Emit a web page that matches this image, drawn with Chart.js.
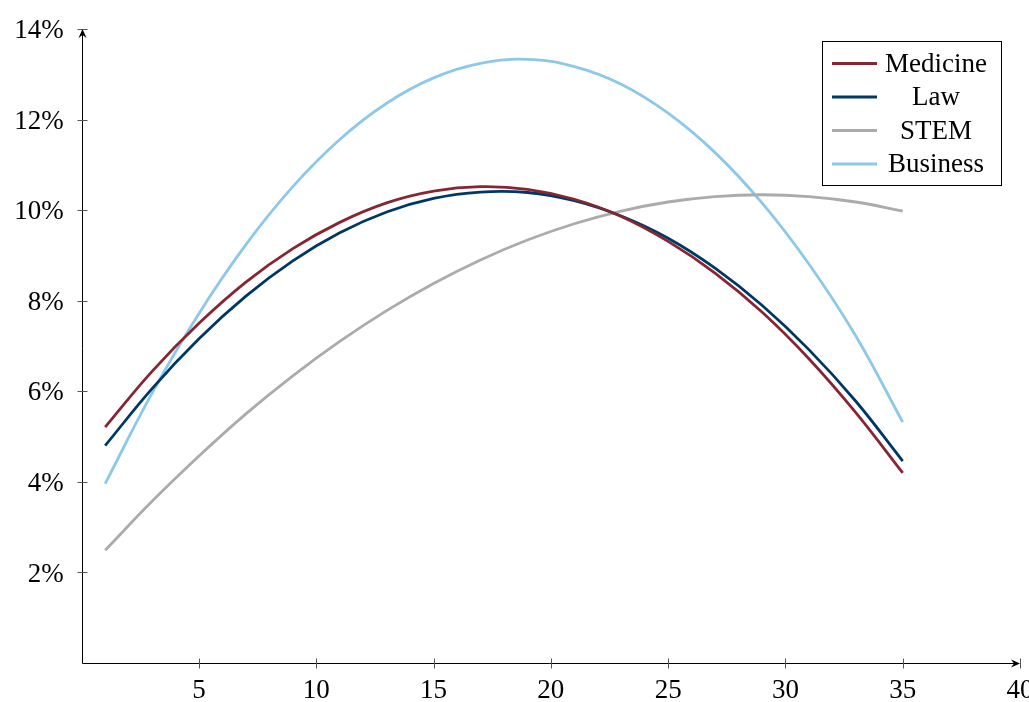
<!DOCTYPE html>
<html>
<head>
<meta charset="utf-8">
<script src="https://cdn.jsdelivr.net/npm/chart.js@4.4.1/dist/chart.umd.min.js"></script>
<style>
  html, body { margin: 0; padding: 0; background: #fff; }
  #wrap { width: 1029px; height: 702px; }
</style>
</head>
<body>
<div id="wrap"><canvas id="mainChart"></canvas></div>
<script>
// values (percent), every 2 years of experience
const xValues  = [1, 3, 5, 7, 9, 11, 13, 15, 17, 19, 21, 23, 25, 27, 29, 31, 33, 35];
const medicine = [5.21, 6.44, 7.50, 8.41, 9.15, 9.73, 10.16, 10.42, 10.52, 10.46, 10.24, 9.86, 9.31, 8.61, 7.75, 6.72, 5.53, 4.20];
const law      = [4.80, 6.06, 7.16, 8.10, 8.88, 9.50, 9.96, 10.26, 10.40, 10.39, 10.21, 9.87, 9.38, 8.72, 7.90, 6.92, 5.78, 4.46];
const stem     = [2.49, 3.57, 4.57, 5.50, 6.34, 7.10, 7.78, 8.38, 8.90, 9.34, 9.70, 9.98, 10.18, 10.30, 10.34, 10.30, 10.18, 9.98];
const business = [3.96, 5.96, 7.72, 9.24, 10.52, 11.56, 12.36, 12.92, 13.24, 13.33, 13.17, 12.78, 12.14, 11.27, 10.16, 8.81, 7.22, 5.32];

const seriesNames  = ['Medicine', 'Law', 'STEM', 'Business'];
const seriesColors = ['#862633', '#003865', '#ababab', '#8dc8e8'];
const xTicks = [5, 10, 15, 20, 25, 30, 35, 40];
const yTicks = [2, 4, 6, 8, 10, 12, 14];

const FONT = { family: '"Liberation Serif", "DejaVu Serif", serif', size: 27 };

function toPoints(values) {
    return values.map((v, i) => ({ x: xValues[i], y: v }));
}

// axes with arrows, ticks crossing the axis, boxed centred legend
const pgfLook = {
    id: 'pgfLook',
    afterDraw(chart) {
        const ctx = chart.ctx;
        const xs = chart.scales.x, ys = chart.scales.y;
        const x0 = Math.round(xs.getPixelForValue(0)) + 0.5;
        const y0 = Math.round(ys.getPixelForValue(0)) + 0.5;
        const xEnd = xs.getPixelForValue(40);
        const yEnd = ys.getPixelForValue(14);

        ctx.save();
        ctx.strokeStyle = '#000';
        ctx.fillStyle = '#000';
        ctx.lineWidth = 1;

        ctx.beginPath();
        ctx.moveTo(x0, y0); ctx.lineTo(xEnd - 4, y0);
        ctx.moveTo(x0, y0); ctx.lineTo(x0, yEnd + 4);
        ctx.stroke();

        ctx.strokeStyle = '#555';
        ctx.beginPath();
        xTicks.forEach(t => {
            const px = Math.round(xs.getPixelForValue(t)) + 0.5;
            ctx.moveTo(px, y0 - 5); ctx.lineTo(px, y0 + 5);
        });
        yTicks.forEach(t => {
            const py = Math.round(ys.getPixelForValue(t)) + 0.5;
            ctx.moveTo(x0 - 5, py); ctx.lineTo(x0 + 5, py);
        });
        ctx.stroke();

        // arrow heads
        ctx.beginPath();
        ctx.moveTo(xEnd, y0);
        ctx.lineTo(xEnd - 9, y0 - 4);
        ctx.lineTo(xEnd - 6, y0);
        ctx.lineTo(xEnd - 9, y0 + 4);
        ctx.closePath();
        ctx.fill();
        ctx.beginPath();
        ctx.moveTo(x0, yEnd);
        ctx.lineTo(x0 - 4, yEnd + 9);
        ctx.lineTo(x0, yEnd + 6);
        ctx.lineTo(x0 + 4, yEnd + 9);
        ctx.closePath();
        ctx.fill();

        // legend
        const box = { left: 822.5, top: 41.5, right: 1001.5, bottom: 185.5 };
        ctx.fillStyle = '#fff';
        ctx.fillRect(box.left, box.top, box.right - box.left, box.bottom - box.top);
        ctx.strokeStyle = '#000';
        ctx.lineWidth = 1;
        ctx.strokeRect(box.left, box.top, box.right - box.left, box.bottom - box.top);
        ctx.font = FONT.size + 'px ' + FONT.family;
        ctx.textAlign = 'center';
        ctx.textBaseline = 'middle';
        chart.data.datasets.forEach((ds, i) => {
            const y = 63.5 + i * 33.5;
            ctx.strokeStyle = ds.borderColor;
            ctx.lineWidth = 2.8;
            ctx.beginPath();
            ctx.moveTo(832, y); ctx.lineTo(877, y);
            ctx.stroke();
            ctx.fillStyle = '#000';
            ctx.fillText(ds.label, 936, y + 1);
        });
        ctx.restore();
    }
};

new Chart(document.getElementById('mainChart'), {
    type: 'line',
    data: {
        datasets: seriesNames.map((name, i) => ({
            label: name,
            data: toPoints([medicine, law, stem, business][i]),
            borderColor: seriesColors[i],
            backgroundColor: seriesColors[i],
            borderWidth: 2.8,
            pointRadius: 0,
            tension: 0.4,
            fill: false
        }))
    },
    options: {
        responsive: true,
        maintainAspectRatio: false,
        animation: false,
        layout: { padding: { top: 29, right: 9, bottom: 0, left: 0 } },
        plugins: { legend: { display: false }, tooltip: { enabled: false } },
        scales: {
            x: {
                type: 'linear',
                min: 0, max: 40,
                border: { display: false },
                grid: { display: false },
                afterBuildTicks: s => { s.ticks = [0].concat(xTicks).map(v => ({ value: v })); },
                afterFit: s => { s.paddingLeft = 0; s.paddingRight = 0; s.height = 39; },
                ticks: {
                    color: '#000', font: FONT, padding: 4, maxRotation: 0, autoSkip: false,
                    callback: v => v === 0 ? '' : String(v)
                }
            },
            y: {
                min: 0, max: 14,
                border: { display: false },
                grid: { display: false },
                afterBuildTicks: s => { s.ticks = [0].concat(yTicks).map(v => ({ value: v })); },
                afterFit: s => { s.paddingTop = 0; s.paddingBottom = 0; s.width = 81.7; },
                ticks: {
                    color: '#000', font: FONT, padding: 10, labelOffset: 2, autoSkip: false,
                    callback: v => v === 0 ? '' : v + '%'
                }
            }
        }
    },
    plugins: [pgfLook]
});
</script>
</body>
</html>
